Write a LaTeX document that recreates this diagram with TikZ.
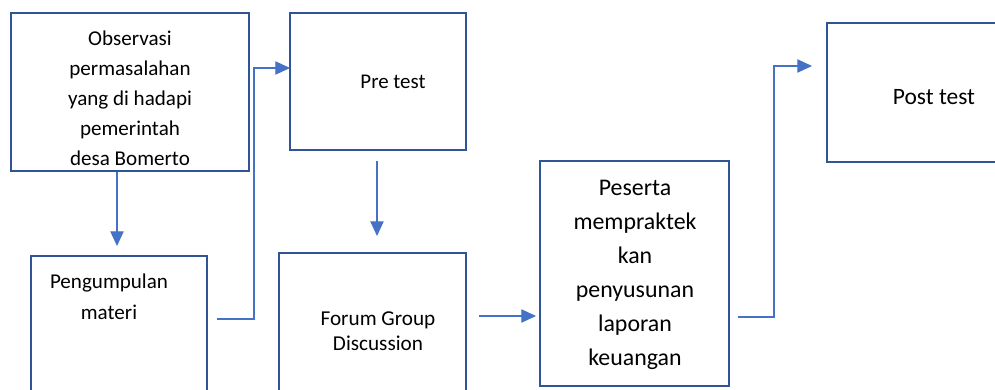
\documentclass[tikz,border=0pt]{standalone}
\usepackage{fontspec}
\setmainfont{Carlito}
\usetikzlibrary{arrows.meta,fit}
\definecolor{boxblue}{HTML}{2F5597}
\definecolor{arrblue}{HTML}{4472C4}
\tikzset{
  box/.style={draw=boxblue, line width=1.8pt, inner sep=0pt, fill=none},
  txt/.style={align=center, inner sep=0pt, text=black},
  arr/.style={draw=arrblue, line width=0.8pt, -{Triangle[length=11pt,width=10pt]}},
}
\begin{document}
\begin{tikzpicture}[x=0.75pt,y=-0.75pt]
\useasboundingbox (0,0) rectangle (995,389);
\clip (0,0) rectangle (995,389);
% boxes
\node[box, fit={(11,13) (249,171)}] (b1) {};
\node[box, fit={(290,13) (466,150)}] (b2) {};
\node[box, fit={(31,256) (207,410)}] (b4) {};
\node[box, fit={(279,253) (466,410)}] (b5) {};
\node[box, fit={(540,161) (729,386)}] (b6) {};
\node[box, fit={(827,23) (1020,162)}] (b7) {};
% texts
\node[txt, font=\fontsize{15.8pt}{22.5pt}\selectfont] (t1) at (130,98)
  {Observasi\\permasalahan\\yang di hadapi\\pemerintah\\desa Bomerto};
\node[txt, font=\fontsize{15.7pt}{19pt}\selectfont] (t2) at (393,82) {Pre test};
\node[txt, font=\fontsize{15.8pt}{23.25pt}\selectfont] (t4) at (109,297) {Pengumpulan\\materi};
\node[txt, font=\fontsize{15.9pt}{18.75pt}\selectfont] (t5) at (378,331) {Forum Group\\Discussion};
\node[txt, font=\fontsize{17.9pt}{25.5pt}\selectfont] (t6) at (635,275)
  {Peserta\\mempraktek\\kan\\penyusunan\\laporan\\keuangan};
\node[txt, font=\fontsize{17.6pt}{21pt}\selectfont] (t7) at (934,97) {Post test};
% connector points
\coordinate (a1e) at (117,246);
\coordinate (a2s) at (217,319);
\coordinate (a2e) at (290,68);
\coordinate (a3s) at (377,161);
\coordinate (a3e) at (377,236);
\coordinate (a4s) at (479,316);
\coordinate (a4e) at (536,316);
\coordinate (a5s) at (738,317);
\coordinate (a5e) at (812,66);
% connectors
\draw[arr] (b1.south -| a1e) -- (a1e);
\draw[arr] (a2s) -- (254,319) |- (a2e);
\draw[arr] (a3s) -- (a3e);
\draw[arr] (a4s) -- (a4e);
\draw[arr] (a5s) -- (774,317) |- (a5e);
\end{tikzpicture}
\end{document}
